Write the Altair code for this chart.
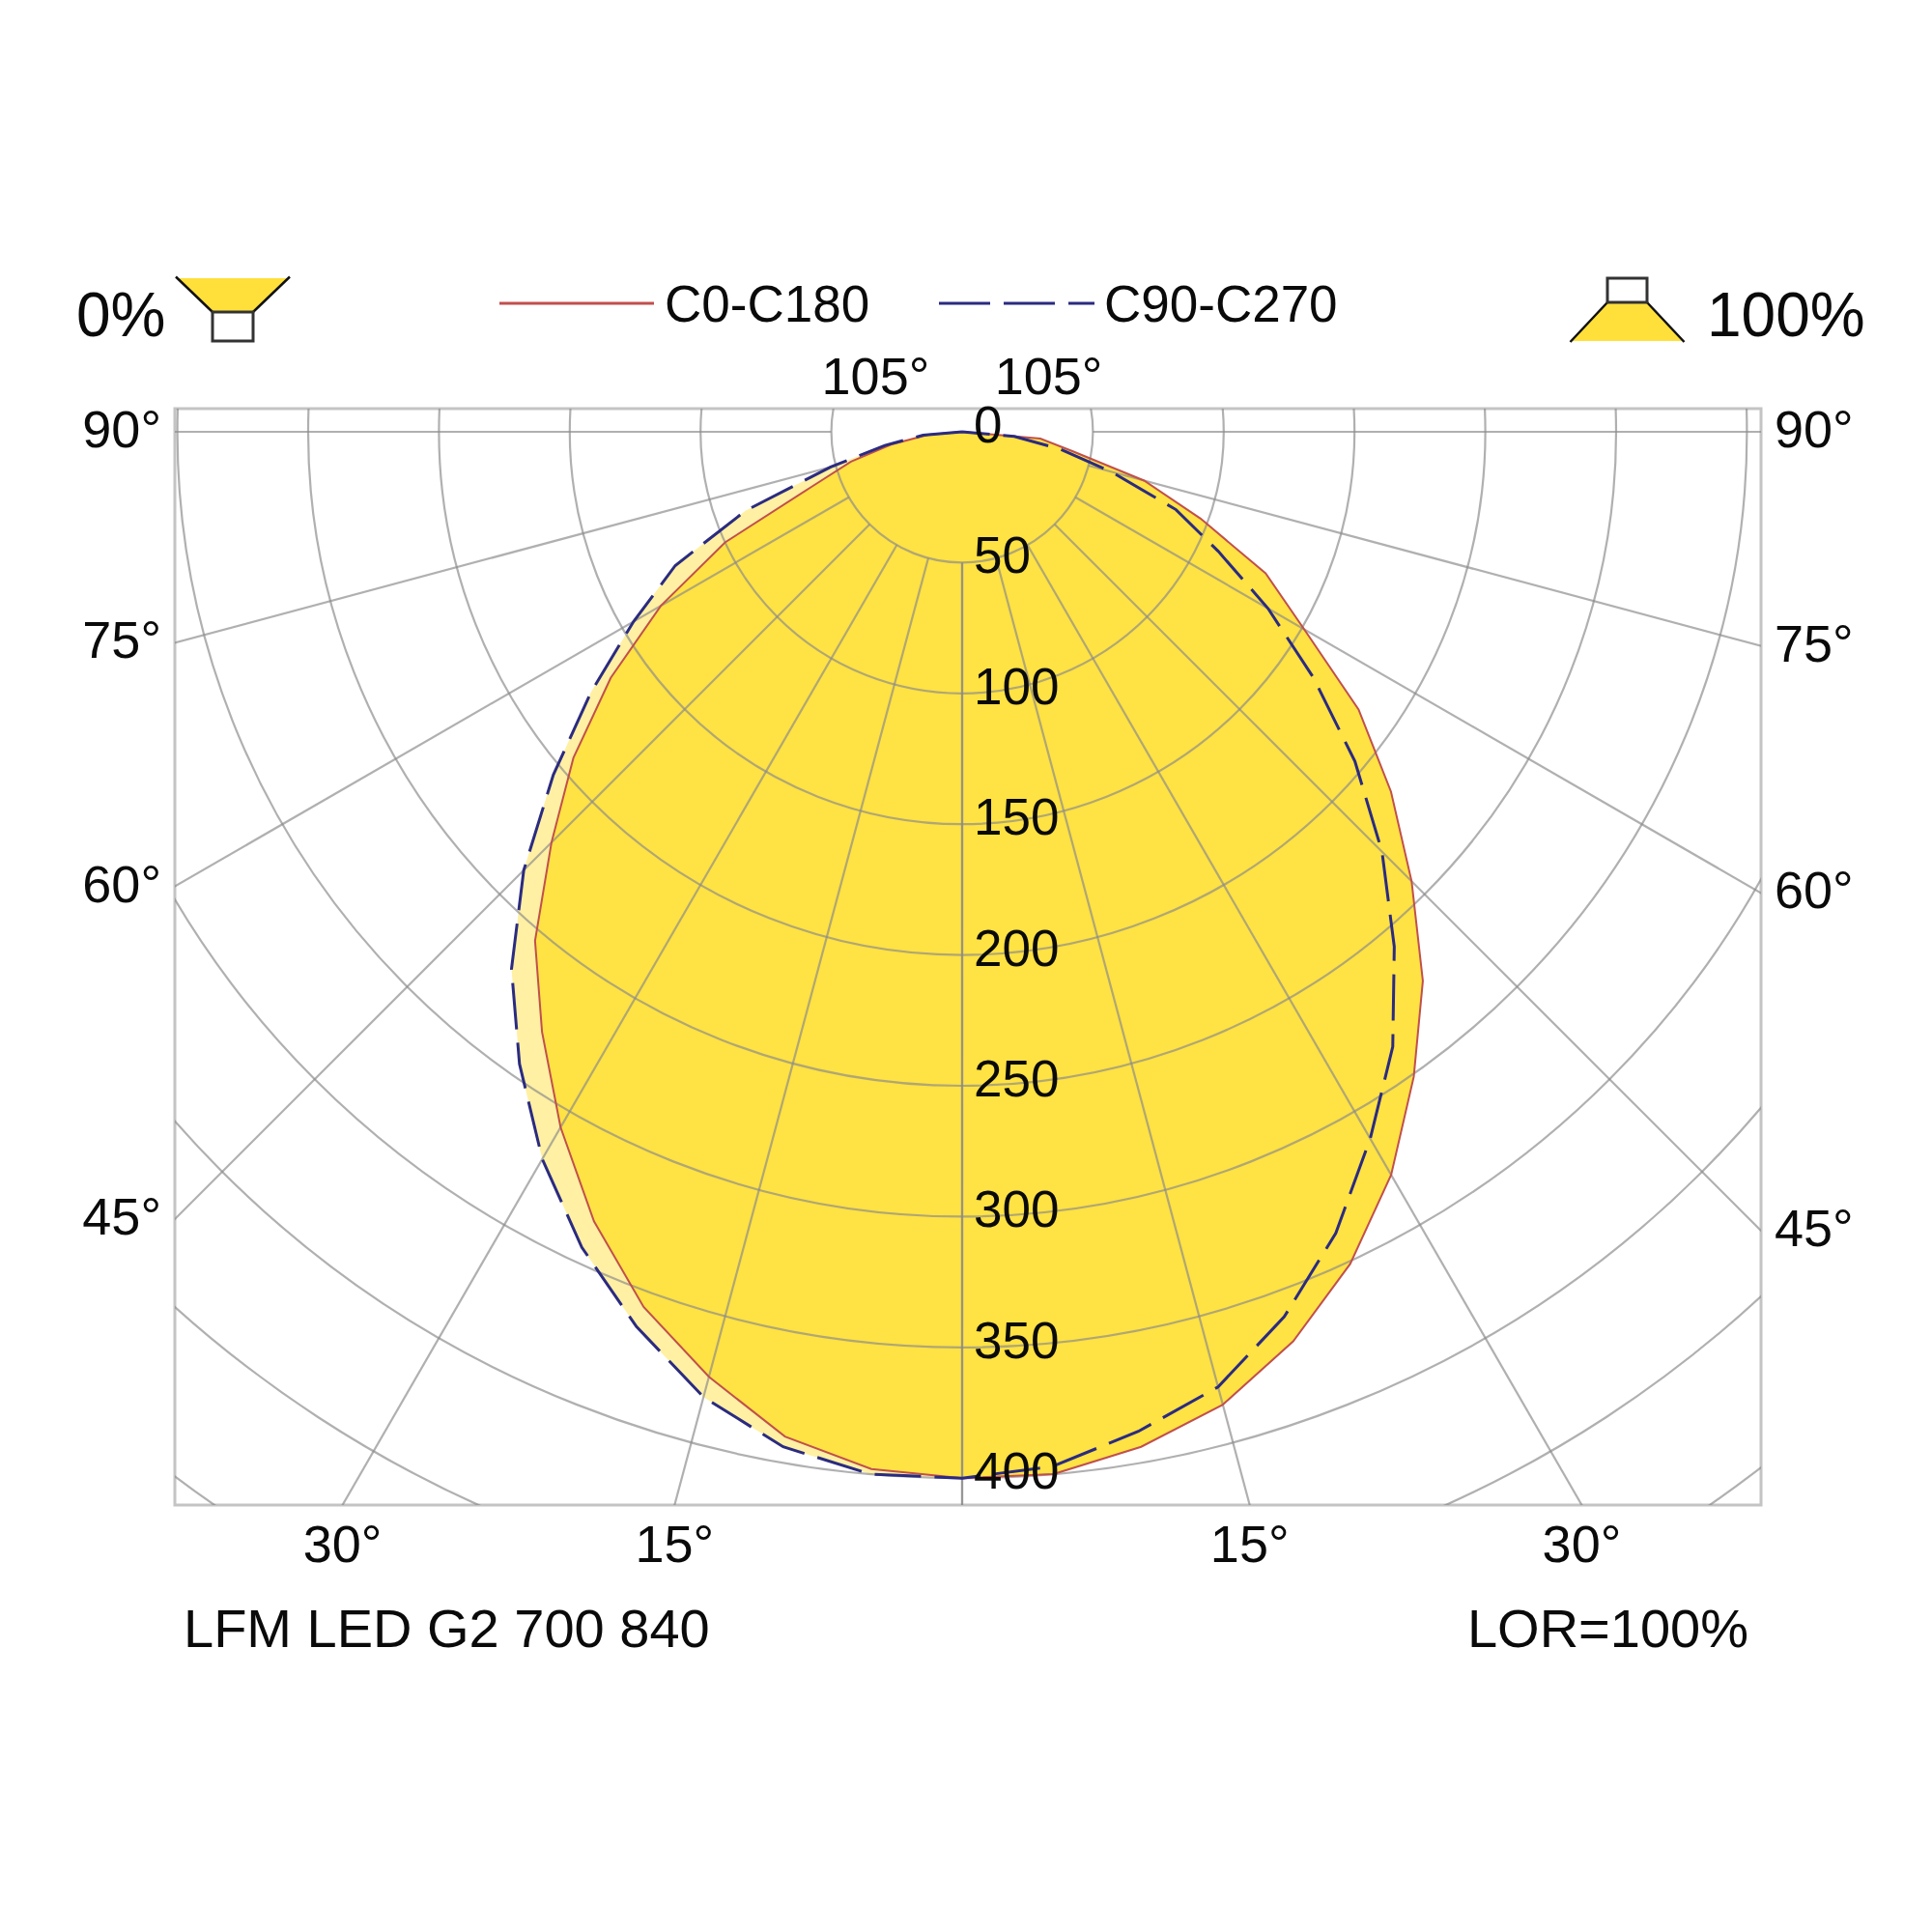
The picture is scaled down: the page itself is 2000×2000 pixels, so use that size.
import math
import pandas as pd
import altair as alt

# luminous intensity (cd/klm) every 5 degrees from nadir
ANGLES = [0, 5, 10, 15, 20, 25, 30, 35, 40, 45, 50, 55, 60, 65, 70, 75, 80, 85, 90]
C0 = [400, 400, 394, 385, 370, 351, 328, 301, 274, 243, 214, 185, 151, 128, 97, 72, 43, 30, 0]
C180 = [400, 398, 390, 374, 356, 333, 307, 280, 254, 222, 194, 164, 133, 100, 61, 44, 27, 13, 0]
C90 = [400, 397, 388, 378, 360, 338, 312, 287, 257, 227, 196, 164, 135, 108, 87, 59, 38, 20, 0]
C270 = [400, 400, 394, 382, 364, 344, 321, 295, 268, 237, 204, 173, 145, 121, 88, 52, 30, 15, 0]

RINGS = [50, 100, 150, 200, 250, 300, 350, 400, 450, 500]
RING_LABELS = [0, 50, 100, 150, 200, 250, 300, 350, 400]
SPOKES = [0, 15, 30, 45, 60, 75, 90, 105]
SIDE_TICKS = [45, 60, 75, 90]
BOTTOM_TICKS = [15, 30]
TOP_TICKS = [105]

# ---------------------------------------------------------------------------
# layout: plot area = grey frame, origin of the polar grid near its top
# ---------------------------------------------------------------------------
PX = 2.708                  # px per cd/klm
W, H = 1642, 1135
OX, OY = 815, 24            # origin inside the frame, px
XMIN, XMAX = -OX / PX, (W - OX) / PX
YMIN, YMAX = -(H - OY) / PX, OY / PX

YELLOW = "#FFE243"
LIGHT = "#FFF0A3"
RED = "#C0504D"
BLUE = "#2B2B80"
GRID = "#8a8a8a"
FONT = "Liberation Sans"

xs = alt.Scale(domain=[XMIN, XMAX], nice=False, zero=False)
ys = alt.Scale(domain=[YMIN, YMAX], nice=False, zero=False)

rows = []
for series, left, right in [("C0-C180", C180, C0), ("C90-C270", C270, C90)]:
    for side, vals in ((-1, left), (1, right)):
        for g, v in zip(ANGLES, vals):
            rows.append({"series": series, "side": side, "gamma": g, "I": v})
curves = pd.DataFrame(rows)


def polar(series):
    return (
        alt.Chart(curves)
        .transform_filter(alt.datum.series == series)
        .transform_calculate(
            x="datum.side * datum.I * sin(datum.gamma * PI / 180)",
            y="-datum.I * cos(datum.gamma * PI / 180)",
            ord="datum.side * datum.gamma",
            x0="0",
        )
    )


def fill(series, color):
    return polar(series).mark_area(orient="horizontal", color=color, opacity=1).encode(
        x=alt.X("x:Q", scale=xs, axis=None),
        x2=alt.X2("x0"),
        y=alt.Y("y:Q", scale=ys, axis=None),
        detail="side:N",
    )


def outline(series, color, width, dash=None):
    props = dict(color=color, strokeWidth=width)
    if dash:
        props["strokeDash"] = dash
    return polar(series).mark_line(**props).encode(
        x=alt.X("x:Q", scale=xs, axis=None),
        y=alt.Y("y:Q", scale=ys, axis=None),
        order=alt.Order("ord:Q"),
    )


# ---------------------------------------------------------------------------
# grid (drawn over the fill, half transparent)
# ---------------------------------------------------------------------------
rings = alt.Chart(pd.DataFrame({"r": RINGS})).transform_calculate(c="0").mark_arc(
    filled=False, fillOpacity=0, stroke=GRID, strokeWidth=2.2, strokeOpacity=0.68,
    theta=0, theta2=2 * math.pi, clip=True,
).encode(
    x=alt.X("c:Q", scale=xs, axis=None),
    y=alt.Y("c:Q", scale=ys, axis=None),
    radius=alt.Radius("r:Q", stack=False,
                      scale=alt.Scale(type="linear", zero=True,
                                      domain=[0, XMAX - XMIN], range=[0, W])),
)

spoke_df = pd.DataFrame([{"a": s * g} for g in SPOKES for s in (-1, 1)])
spokes = alt.Chart(spoke_df).transform_calculate(
    xa="50 * sin(datum.a * PI / 180)",
    ya="-50 * cos(datum.a * PI / 180)",
    xb="900 * sin(datum.a * PI / 180)",
    yb="-900 * cos(datum.a * PI / 180)",
).mark_rule(color=GRID, strokeWidth=2.2, opacity=0.68, clip=True).encode(
    x=alt.X("xa:Q", scale=xs, axis=None),
    y=alt.Y("ya:Q", scale=ys, axis=None),
    x2="xb:Q",
    y2="yb:Q",
)

# ---------------------------------------------------------------------------
# labels
# ---------------------------------------------------------------------------
ring_lbl = alt.Chart(pd.DataFrame({"r": RING_LABELS})).transform_calculate(
    x="0", y="-datum.r"
).mark_text(align="left", baseline="middle", dx=12, dy=-5, fontSize=53).encode(
    x=alt.X("x:Q", scale=xs, axis=None),
    y=alt.Y("y:Q", scale=ys, axis=None),
    text="r:Q",
)

side_src = alt.Chart(pd.DataFrame({"g": SIDE_TICKS}))
left_lbl = side_src.transform_calculate(
    x=f"{XMIN}",
    y=f"{XMIN} * cos(datum.g * PI / 180) / sin(datum.g * PI / 180)",
    label="datum.g + '°'",
).mark_text(align="right", baseline="middle", dx=-14, fontSize=54).encode(
    x=alt.X("x:Q", scale=xs, axis=None),
    y=alt.Y("y:Q", scale=ys, axis=None),
    text="label:N",
)
right_lbl = side_src.transform_calculate(
    x=f"{XMAX}",
    y=f"-{XMAX} * cos(datum.g * PI / 180) / sin(datum.g * PI / 180)",
    label="datum.g + '°'",
).mark_text(align="left", baseline="middle", dx=14, fontSize=54).encode(
    x=alt.X("x:Q", scale=xs, axis=None),
    y=alt.Y("y:Q", scale=ys, axis=None),
    text="label:N",
)

bottom_df = pd.DataFrame([{"g": g, "s": s} for g in BOTTOM_TICKS for s in (-1, 1)])
bottom_lbl = alt.Chart(bottom_df).transform_calculate(
    x=f"datum.s * {-YMIN} * tan(datum.g * PI / 180)",
    label="datum.g + '°'",
).mark_text(align="center", baseline="alphabetic", fontSize=54).encode(
    x=alt.X("x:Q", scale=xs, axis=None),
    y=alt.value(H + 59),
    text="label:N",
)

top_df = pd.DataFrame([{"g": g, "s": s} for g in TOP_TICKS for s in (-1, 1)])
top_lbl = alt.Chart(top_df).transform_calculate(
    x=f"-datum.s * {YMAX} * tan(datum.g * PI / 180)",
    label="datum.g + '°'",
).mark_text(align="center", baseline="alphabetic", fontSize=54).encode(
    x=alt.X("x:Q", scale=xs, axis=None),
    y=alt.value(-15),
    text="label:N",
)

# ---------------------------------------------------------------------------
# header: legend, up/down light icons, footer texts
# ---------------------------------------------------------------------------
one = pd.DataFrame({"k": [0]})


def label(txt, x, y, size, align="left"):
    return alt.Chart(one).mark_text(
        text=txt, align=align, baseline="alphabetic", fontSize=size
    ).encode(x=alt.value(x), y=alt.value(y))


leg_red = alt.Chart(one).mark_rule(color=RED, strokeWidth=3).encode(
    x=alt.value(336), x2=alt.value(496), y=alt.value(-109))
leg_blue = alt.Chart(one).mark_rule(color=BLUE, strokeWidth=3, strokeDash=[53, 14]).encode(
    x=alt.value(791), x2=alt.value(952), y=alt.value(-109))


def shape(path, x, y, filled, color, sw=0):
    props = dict(shape=path, size=4, filled=filled, opacity=1)
    if filled:
        props.update(fill=color, strokeWidth=0)
    else:
        props.update(stroke=color, strokeWidth=sw)
    return alt.Chart(one).mark_point(**props).encode(x=alt.value(x), y=alt.value(y))


def box(x1, x2, y1, y2):
    return alt.Chart(one).mark_rect(fill="white", stroke="#333333", strokeWidth=3).encode(
        x=alt.value(x1), x2=alt.value(x2), y=alt.value(y1), y2=alt.value(y2))


icon_down = [
    shape("M-57.5,-35 L57.5,-35 L21,0 L-21,0 Z", 60, -100, True, "#FFE03A"),
    shape("M-59,-36.5 L-21,0 M59,-36.5 L21,0", 60, -100, False, "#111111", 2.5),
    box(39, 81, -100, -70),
]
icon_up = [
    shape("M-20.5,-40 L20.5,-40 L57.5,0 L-57.5,0 Z", 1503.5, -70, True, "#FFE03A"),
    shape("M-20.5,-40 L-59,1 M20.5,-40 L59,1", 1503.5, -70, False, "#111111", 2.5),
    box(1483, 1524, -135, -110),
]

chart = alt.layer(
    fill("C90-C270", LIGHT),
    fill("C0-C180", YELLOW),
    rings,
    spokes,
    outline("C0-C180", RED, 2),
    outline("C90-C270", BLUE, 3, [48, 14]),
    ring_lbl,
    left_lbl,
    right_lbl,
    bottom_lbl,
    top_lbl,
    leg_red,
    leg_blue,
    label("C0-C180", 507, -90, 53),
    label("C90-C270", 962, -90, 53),
    label("0%", -102, -75, 64),
    label("100%", 1586, -75, 64),
    *icon_down,
    *icon_up,
    label("LFM LED G2 700 840", 9, 1282, 56),
    label("LOR=100%", 1629, 1282, 56, align="right"),
).properties(
    width=W,
    height=H,
    padding={"left": 173, "top": 415, "right": 169, "bottom": 434},
    autosize=alt.AutoSizeParams(type="none"),
    background="white",
).configure_view(
    stroke="#c4c4c4", strokeWidth=3
).configure_text(
    font=FONT, color="#0a0a0a"
)

chart.save("out.html", embed_options={"renderer": "svg", "actions": False})
